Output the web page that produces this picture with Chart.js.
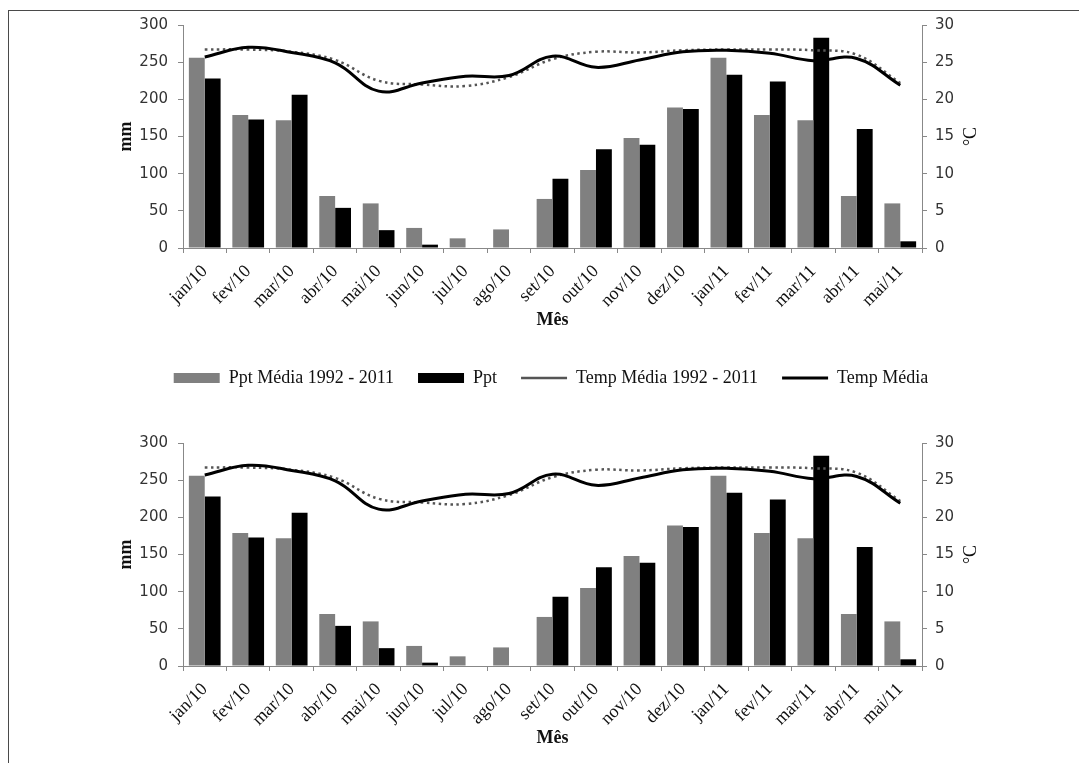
<!DOCTYPE html>
<html>
<head>
<meta charset="utf-8">
<title>Precipitação e temperatura</title>
<script src="https://cdn.jsdelivr.net/npm/chart.js@4/dist/chart.umd.min.js"></script>
<style>
    html, body { margin: 0; padding: 0; background: #fff; }
    body { width: 1079px; height: 763px; position: relative; overflow: hidden; }
    .moldura {
        position: absolute; left: 8px; top: 10px; width: 1080px; height: 760px;
        border-left: 1px solid #4a4a4a; border-top: 1px solid #4a4a4a;
    }
    canvas { position: absolute; left: 0; }
    #grafico-1 { top: 0; }
    #grafico-2 { top: 418px; }
</style>
</head>
<body>
<div class="moldura"></div>
<canvas id="grafico-1" width="1079" height="397"></canvas>
<canvas id="grafico-2" width="1079" height="345"></canvas>
<script>
const meses = ['jan/10', 'fev/10', 'mar/10', 'abr/10', 'mai/10', 'jun/10', 'jul/10', 'ago/10', 'set/10',
    'out/10', 'nov/10', 'dez/10', 'jan/11', 'fev/11', 'mar/11', 'abr/11', 'mai/11'];

// precipitação (mm)
const pptMedia = [256, 179, 172, 70, 60, 27, 13, 25, 66, 105, 148, 189, 256, 179, 172, 70, 60];
const ppt = [228, 173, 206, 54, 24, 4.5, 0, 0, 93, 133, 139, 187, 233, 224, 283, 160, 9];

// temperatura (°C)
const tempMedia9211 = [26.7, 26.7, 26.4, 25.3, 22.5, 22.0, 21.8, 23.0, 25.4, 26.4, 26.3, 26.6, 26.7, 26.7, 26.6, 26.0, 22.2];
const tempMedia = [25.7, 27.0, 26.3, 24.9, 21.1, 22.2, 23.1, 23.2, 25.8, 24.3, 25.3, 26.4, 26.6, 26.2, 25.2, 25.5, 21.9];

const serif = "'Liberation Serif', 'Times New Roman', serif";
const sans = "'DejaVu Sans', Verdana, sans-serif";
const corEixo = '#888';

// título do eixo direito, lido de baixo para cima como no original
const tituloGraus = {
    id: 'tituloGraus',
    afterDraw(chart) {
        const { ctx, chartArea } = chart;
        ctx.save();
        ctx.translate(chartArea.right + 49, (chartArea.top + chartArea.bottom) / 2);
        ctx.rotate(-Math.PI / 2);
        ctx.font = '18px ' + serif;
        ctx.fillStyle = '#111';
        ctx.textAlign = 'center';
        ctx.textBaseline = 'middle';
        ctx.fillText('°C', 0, 0);
        ctx.restore();
    }
};

function criarGrafico(id, comLegenda) {
    return new Chart(document.getElementById(id), {
        type: 'bar',
        data: {
            labels: meses,
            datasets: [
                {
                    type: 'bar', label: 'Ppt Média 1992 - 2011', data: pptMedia,
                    backgroundColor: '#808080', borderWidth: 0, pointStyle: 'rect', yAxisID: 'y', order: 2
                },
                {
                    type: 'bar', label: 'Ppt', data: ppt,
                    backgroundColor: '#000', borderWidth: 0, pointStyle: 'rect', yAxisID: 'y', order: 2
                },
                {
                    type: 'line', label: 'Temp Média 1992 - 2011', data: tempMedia9211,
                    borderColor: '#555', borderWidth: 2.5, borderDash: [2.5, 3.5], tension: 0.4,
                    pointRadius: 0, pointStyle: 'line', fill: false, yAxisID: 'y1', order: 1
                },
                {
                    type: 'line', label: 'Temp Média', data: tempMedia,
                    borderColor: '#000', borderWidth: 3, tension: 0.4,
                    pointRadius: 0, pointStyle: 'line', fill: false, yAxisID: 'y1', order: 0
                }
            ]
        },
        options: {
            responsive: false,
            animation: false,
            events: [],
            layout: { padding: { left: 23, right: 0, top: 25, bottom: 0 } },
            datasets: { bar: { categoryPercentage: 0.73, barPercentage: 1 } },
            plugins: {
                tooltip: { enabled: false },
                legend: {
                    display: comLegenda,
                    position: 'bottom',
                    labels: {
                        usePointStyle: true,
                        pointStyleWidth: 46,
                        boxHeight: 10,
                        padding: 24,
                        color: '#111',
                        font: { family: serif, size: 18 },
                        sort: (a, b) => a.datasetIndex - b.datasetIndex
                    }
                }
            },
            scales: {
                x: {
                    offset: true,
                    grid: { offset: true, drawOnChartArea: false, tickLength: 5, color: corEixo },
                    border: { color: corEixo },
                    ticks: {
                        autoSkip: false, maxRotation: 45, minRotation: 45, padding: 8,
                        color: '#111', font: { family: serif, size: 18 }
                    },
                    title: {
                        display: true, text: 'Mês', color: '#111',
                        font: { family: serif, size: 18, weight: 'bold' },
                        padding: { top: 0, bottom: 14 }
                    },
                    afterFit: s => { s.height = 97; }
                },
                y: {
                    position: 'left', min: 0, max: 300,
                    grid: { drawOnChartArea: false, tickLength: 5, color: corEixo },
                    border: { color: corEixo },
                    ticks: { stepSize: 50, padding: 10, color: '#333', font: { family: sans, size: 15 } },
                    title: {
                        display: true, text: 'mm', color: '#111',
                        font: { family: serif, size: 18, weight: 'bold' },
                        padding: { top: 93, bottom: 0 }
                    },
                    afterFit: s => { s.width = 160; }
                },
                y1: {
                    position: 'right', min: 0, max: 30,
                    grid: { drawOnChartArea: false, tickLength: 5, color: corEixo },
                    border: { color: corEixo },
                    ticks: { stepSize: 5, padding: 8, color: '#333', font: { family: sans, size: 15 } },
                    afterFit: s => { s.width = 157; }
                }
            }
        },
        plugins: [tituloGraus]
    });
}

criarGrafico('grafico-1', true);
criarGrafico('grafico-2', false);
</script>
</body>
</html>
